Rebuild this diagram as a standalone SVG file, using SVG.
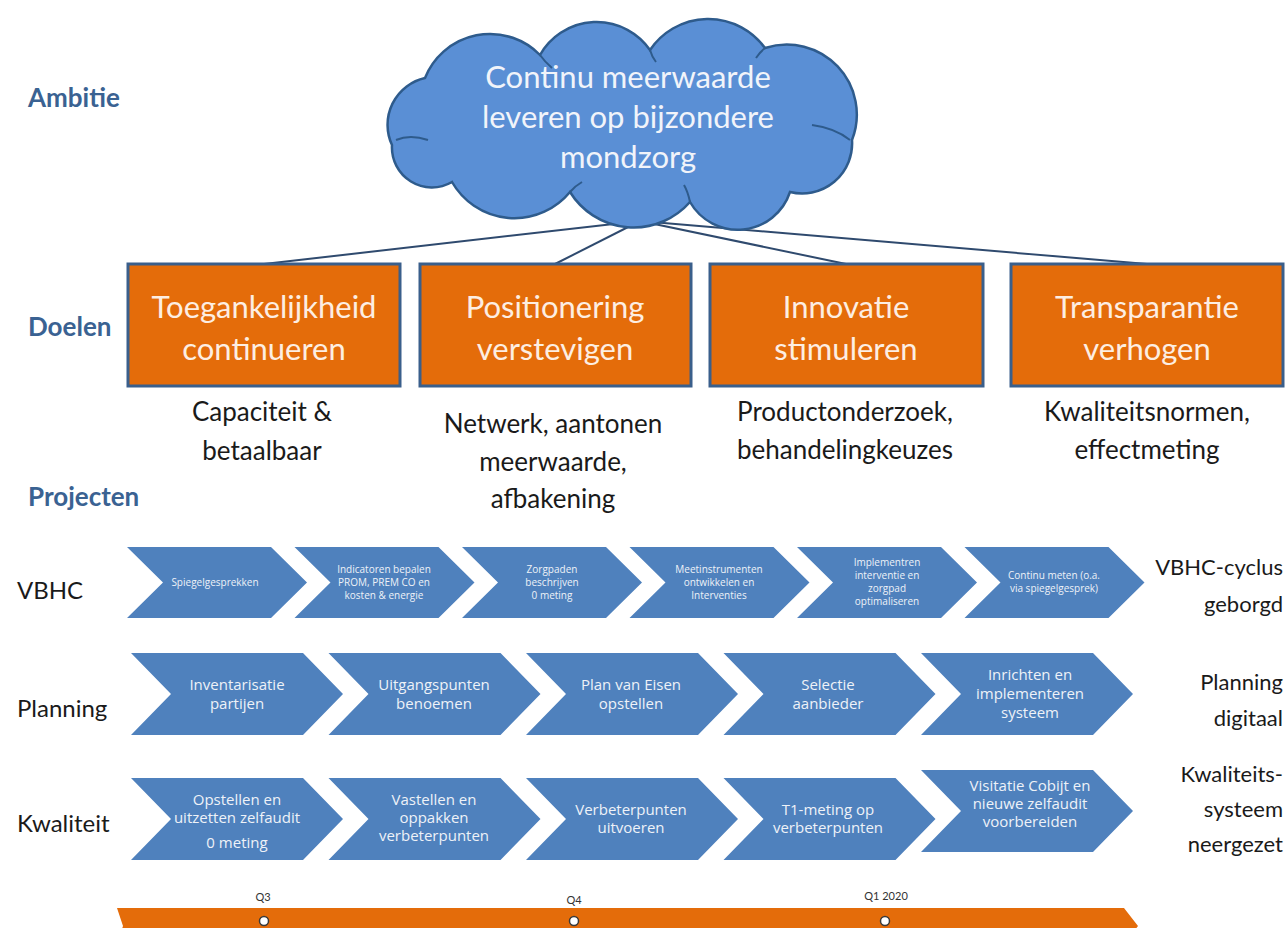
<svg xmlns="http://www.w3.org/2000/svg" width="1285" height="928" viewBox="0 0 1285 928">
  <style>
    .hd { font-family: Lato, "Liberation Sans", sans-serif; font-weight: bold; font-size: 26px; fill: #3a6292; }
    .goal { fill: #e46c0a; stroke: #3a5f8b; stroke-width: 3; }
    .goaltx { font-family: Lato, "Liberation Sans", sans-serif; font-size: 31px; fill: #fdeee2; text-anchor: middle; }
    .sub { font-family: Lato, "Liberation Sans", sans-serif; font-size: 26px; fill: #1a1a1a; text-anchor: middle; }
    .cloudtx { font-family: Lato, "Liberation Sans", sans-serif; font-size: 31px; fill: #f1f4fa; text-anchor: middle; }
    .chev { fill: #4f81bd; }
    .t1 { font-family: "Open Sans", "Liberation Sans", sans-serif; font-size: 10px; fill: #eef2f8; text-anchor: middle; }
    .t2 { font-family: "Open Sans", "Liberation Sans", sans-serif; font-size: 15px; fill: #eef2f8; text-anchor: middle; }
    .rowl { font-family: Lato, "Liberation Sans", sans-serif; font-size: 24px; fill: #1a1a1a; }
    .rowr { font-family: Lato, "Liberation Sans", sans-serif; font-size: 22px; fill: #1a1a1a; text-anchor: end; }
    .q { font-family: Lato, "Liberation Sans", sans-serif; font-size: 11px; fill: #333333; text-anchor: middle; }
    .link { stroke: #2f4a6e; stroke-width: 2; fill: none; }
    .fold { fill: none; stroke: #2e5b8c; stroke-width: 2; }
  </style>

  <rect width="1285" height="928" fill="#ffffff"/>

  <!-- level headings -->
  <g id="headings">
    <text class="hd" x="28" y="107">Ambitie</text>
    <text class="hd" x="28" y="336">Doelen</text>
    <text class="hd" x="28" y="506">Projecten</text>
  </g>

  <!-- lines from the ambition cloud to each goal -->
  <g id="connectors">
    <line class="link" x1="640" y1="221" x2="264" y2="264"/>
    <line class="link" x1="640" y1="221" x2="555" y2="264"/>
    <line class="link" x1="640" y1="221" x2="846" y2="264"/>
    <line class="link" x1="640" y1="221" x2="1147" y2="264"/>
  </g>

  <!-- ambition cloud -->
  <g id="ambitie">
    <path d="M 392,145 A 48,48 0 0 1 425,78 A 70,70 0 0 1 540,55 A 65,65 0 0 1 650,50 A 70,70 0 0 1 765,48 A 70,70 0 0 1 852,140 A 50,50 0 0 1 790,192 A 55,55 0 0 1 690,202 A 75,75 0 0 1 570,192 A 72,72 0 0 1 452,182 A 40,40 0 0 1 392,145 Z" fill="#5a8fd5" stroke="#2e5b8c" stroke-width="2.5"/>
    <path class="fold" d="M 428,140 Q 410,134 396,140"/>
    <path class="fold" d="M 540,55 Q 545,62 552,68"/>
    <path class="fold" d="M 650,50 Q 652,57 656,62"/>
    <path class="fold" d="M 765,48 Q 760,52 756,58"/>
    <path class="fold" d="M 812,125 Q 835,128 850,140"/>
    <path class="fold" d="M 690,202 Q 688,192 684,185"/>
    <path class="fold" d="M 570,192 Q 575,186 582,182"/>
    <text class="cloudtx" x="628" y="88">Continu meerwaarde</text>
    <text class="cloudtx" x="628" y="128">leveren op bijzondere</text>
    <text class="cloudtx" x="628" y="168">mondzorg</text>
  </g>

  <!-- goals -->
  <g id="doel-toegankelijkheid">
    <rect class="goal" x="128" y="264" width="272" height="122"/>
    <text class="goaltx" x="264" y="318">Toegankelijkheid</text>
    <text class="goaltx" x="264" y="360">continueren</text>
    <text class="sub" x="262" y="421">Capaciteit &amp;</text>
    <text class="sub" x="262" y="460">betaalbaar</text>
  </g>
  <g id="doel-positionering">
    <rect class="goal" x="420" y="264" width="271" height="122"/>
    <text class="goaltx" x="555" y="318">Positionering</text>
    <text class="goaltx" x="555" y="360">verstevigen</text>
    <text class="sub" x="553" y="433">Netwerk, aantonen</text>
    <text class="sub" x="553" y="471">meerwaarde,</text>
    <text class="sub" x="553" y="508">afbakening</text>
  </g>
  <g id="doel-innovatie">
    <rect class="goal" x="710" y="264" width="273" height="122"/>
    <text class="goaltx" x="846" y="318">Innovatie</text>
    <text class="goaltx" x="846" y="360">stimuleren</text>
    <text class="sub" x="845" y="421">Productonderzoek,</text>
    <text class="sub" x="845" y="459">behandelingkeuzes</text>
  </g>
  <g id="doel-transparantie">
    <rect class="goal" x="1011" y="264" width="272" height="122"/>
    <text class="goaltx" x="1147" y="318">Transparantie</text>
    <text class="goaltx" x="1147" y="360">verhogen</text>
    <text class="sub" x="1147" y="421">Kwaliteitsnormen,</text>
    <text class="sub" x="1147" y="459">effectmeting</text>
  </g>

  <!-- project row: VBHC -->
  <g id="project-vbhc">
    <text class="rowl" x="17" y="599">VBHC</text>
    <polygon class="chev" points="127,547 271,547 307,582.5 271,618 127,618 163,582.5"/>
    <polygon class="chev" points="294.5,547 438.5,547 474.5,582.5 438.5,618 294.5,618 330.5,582.5"/>
    <polygon class="chev" points="462,547 606,547 642,582.5 606,618 462,618 498,582.5"/>
    <polygon class="chev" points="629.5,547 773.5,547 809.5,582.5 773.5,618 629.5,618 665.5,582.5"/>
    <polygon class="chev" points="797,547 941,547 977,582.5 941,618 797,618 833,582.5"/>
    <polygon class="chev" points="964.5,547 1108.5,547 1144.5,582.5 1108.5,618 964.5,618 1000.5,582.5"/>
    <text class="t1" x="215" y="586">Spiegelgesprekken</text>
    <text class="t1" x="384" y="573">Indicatoren  bepalen</text>
    <text class="t1" x="384" y="586">PROM, PREM  CO en</text>
    <text class="t1" x="384" y="599">kosten  &amp; energie</text>
    <text class="t1" x="552" y="573">Zorgpaden</text>
    <text class="t1" x="552" y="586">beschrijven</text>
    <text class="t1" x="552" y="599">0 meting</text>
    <text class="t1" x="719" y="573">Meetinstrumenten</text>
    <text class="t1" x="719" y="586">ontwikkelen  en</text>
    <text class="t1" x="719" y="599">Interventies</text>
    <text class="t1" x="887" y="566">Implementren</text>
    <text class="t1" x="887" y="579">interventie  en</text>
    <text class="t1" x="887" y="592">zorgpad</text>
    <text class="t1" x="887" y="605">optimaliseren</text>
    <text class="t1" x="1054" y="579">Continu meten  (o.a.</text>
    <text class="t1" x="1054" y="592">via spiegelgesprek)</text>
    <text class="rowr" x="1283" y="575">VBHC-cyclus</text>
    <text class="rowr" x="1283" y="612">geborgd</text>
  </g>

  <!-- project row: Planning -->
  <g id="project-planning">
    <text class="rowl" x="17" y="717">Planning</text>
    <polygon class="chev" points="131,653 303,653 343,694 303,735 131,735 171,694"/>
    <polygon class="chev" points="328.5,653 500.5,653 540.5,694 500.5,735 328.5,735 368.5,694"/>
    <polygon class="chev" points="526,653 698,653 738,694 698,735 526,735 566,694"/>
    <polygon class="chev" points="723.5,653 895.5,653 935.5,694 895.5,735 723.5,735 763.5,694"/>
    <polygon class="chev" points="921,653 1093,653 1133,694 1093,735 921,735 961,694"/>
    <text class="t2" x="237" y="690">Inventarisatie</text>
    <text class="t2" x="237" y="709">partijen</text>
    <text class="t2" x="434" y="690">Uitgangspunten</text>
    <text class="t2" x="434" y="709">benoemen</text>
    <text class="t2" x="631" y="690">Plan van Eisen</text>
    <text class="t2" x="631" y="709">opstellen</text>
    <text class="t2" x="828" y="690">Selectie</text>
    <text class="t2" x="828" y="709">aanbieder</text>
    <text class="t2" x="1030" y="680">Inrichten en</text>
    <text class="t2" x="1030" y="699">implementeren</text>
    <text class="t2" x="1030" y="718">systeem</text>
    <text class="rowr" x="1283" y="690">Planning</text>
    <text class="rowr" x="1283" y="726">digitaal</text>
  </g>

  <!-- project row: Kwaliteit -->
  <g id="project-kwaliteit">
    <text class="rowl" x="17" y="832">Kwaliteit</text>
    <polygon class="chev" points="131,778 303,778 343,819 303,860 131,860 171,819"/>
    <polygon class="chev" points="328.5,778 500.5,778 540.5,819 500.5,860 328.5,860 368.5,819"/>
    <polygon class="chev" points="526,778 698,778 738,819 698,860 526,860 566,819"/>
    <polygon class="chev" points="723.5,778 895.5,778 935.5,819 895.5,860 723.5,860 763.5,819"/>
    <polygon class="chev" points="921,770 1093,770 1133,811 1093,852 921,852 961,811"/>
    <text class="t2" x="237" y="805">Opstellen en</text>
    <text class="t2" x="237" y="823">uitzetten zelfaudit</text>
    <text class="t2" x="237" y="848">0 meting</text>
    <text class="t2" x="434" y="805">Vastellen en</text>
    <text class="t2" x="434" y="823">oppakken</text>
    <text class="t2" x="434" y="841">verbeterpunten</text>
    <text class="t2" x="631" y="815">Verbeterpunten</text>
    <text class="t2" x="631" y="833">uitvoeren</text>
    <text class="t2" x="828" y="815">T1-meting op</text>
    <text class="t2" x="828" y="833">verbeterpunten</text>
    <text class="t2" x="1030" y="791">Visitatie Cobijt en</text>
    <text class="t2" x="1030" y="809">nieuwe zelfaudit</text>
    <text class="t2" x="1030" y="827">voorbereiden</text>
    <text class="rowr" x="1283" y="782">Kwaliteits-</text>
    <text class="rowr" x="1283" y="817">systeem</text>
    <text class="rowr" x="1283" y="852">neergezet</text>
  </g>

  <!-- time axis -->
  <g id="tijdlijn">
    <polygon points="117,908 1124,908 1138,926 1124,944 117,944 123,926" fill="#e46c0a"/>
    <circle cx="264" cy="921" r="4.5" fill="#ffffff" stroke="#3a3a3a" stroke-width="1.5"/>
    <circle cx="574" cy="921" r="4.5" fill="#ffffff" stroke="#3a3a3a" stroke-width="1.5"/>
    <circle cx="885" cy="921" r="4.5" fill="#ffffff" stroke="#3a3a3a" stroke-width="1.5"/>
    <text class="q" x="263" y="901">Q3</text>
    <text class="q" x="574" y="904">Q4</text>
    <text class="q" x="886" y="900">Q1 2020</text>
  </g>
</svg>
